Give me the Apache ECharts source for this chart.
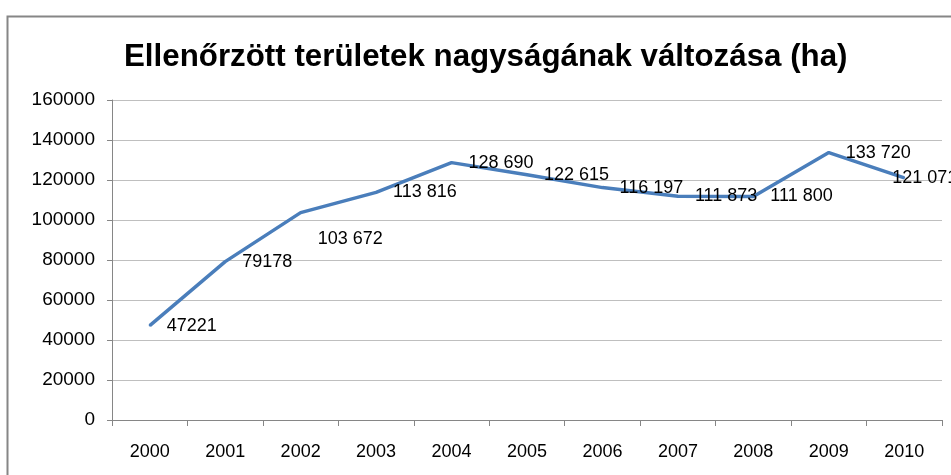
<!DOCTYPE html>
<html>
<head>
<meta charset="utf-8">
<script src="https://cdn.jsdelivr.net/npm/echarts@6/dist/echarts.min.js"></script>
<style>
  html, body { margin: 0; padding: 0; background: #fff; }
  #chart { width: 951px; height: 475px; }
</style>
</head>
<body>
<div id="chart"></div>
<script>
// adatok
const years = ['2000', '2001', '2002', '2003', '2004', '2005', '2006', '2007', '2008', '2009', '2010']
const areas = [47221, 79178, 103672, 113816, 128690, 122615, 116197, 111873, 111800, 133720, 121071]
const areaLabels = ['47221', '79178', '103 672', '113 816', '128 690', '122 615', '116 197', '111 873', '111 800', '133 720', '121 071']

const font = "'Liberation Sans', sans-serif"

// címkék eltolása ahol az eredetin máshol állnak
const labelShift = { 2: [0, 26], 10: [-29, 0] }

const myChart = echarts.init(document.querySelector('#chart'))
const option = {
    animation: false,
    title: {
        text: 'Ellenőrzött területek nagyságának változása (ha)',
        left: 119,
        top: 37,
        textStyle: {
            fontFamily: font,
            fontWeight: 'bold',
            fontSize: 31.3,
            color: '#000'
        }
    },
    graphic: [
        {
            type: 'rect',
            left: 5,
            top: 14,
            shape: { width: 1000, height: 500 },
            style: { fill: 'none', stroke: '#868686', lineWidth: 2 }
        }
    ],
    grid: {
        left: 112,
        right: 9,
        top: 100,
        bottom: 55
    },
    xAxis: {
        type: 'category',
        data: years,
        axisLine: { lineStyle: { color: '#868686', width: 1 } },
        axisTick: { show: true, length: 6, lineStyle: { color: '#868686' } },
        axisLabel: {
            margin: 23,
            fontFamily: font,
            fontSize: 18,
            color: '#000'
        }
    },
    yAxis: {
        type: 'value',
        min: 0,
        max: 160000,
        interval: 20000,
        axisLine: { show: true, lineStyle: { color: '#868686', width: 1 } },
        axisTick: { show: true, length: 5, lineStyle: { color: '#868686' } },
        splitLine: { lineStyle: { color: '#bfbfbf', width: 1 } },
        axisLabel: {
            margin: 17,
            fontFamily: font,
            fontSize: 19,
            color: '#000',
            formatter: v => String(v)
        }
    },
    series: [
        {
            type: 'line',
            data: areas.map((v, i) => ({
                value: v,
                label: labelShift[i] ? { offset: labelShift[i] } : {}
            })),
            showSymbol: true,
            symbol: 'circle',
            symbolSize: 2,
            itemStyle: { color: '#4a7ebb' },
            lineStyle: { color: '#4a7ebb', width: 3.5 },
            label: {
                show: true,
                position: 'right',
                distance: 16,
                fontFamily: font,
                fontSize: 18,
                color: '#000',
                formatter: p => areaLabels[p.dataIndex]
            }
        }
    ]
}
myChart.setOption(option)
</script>
</body>
</html>
